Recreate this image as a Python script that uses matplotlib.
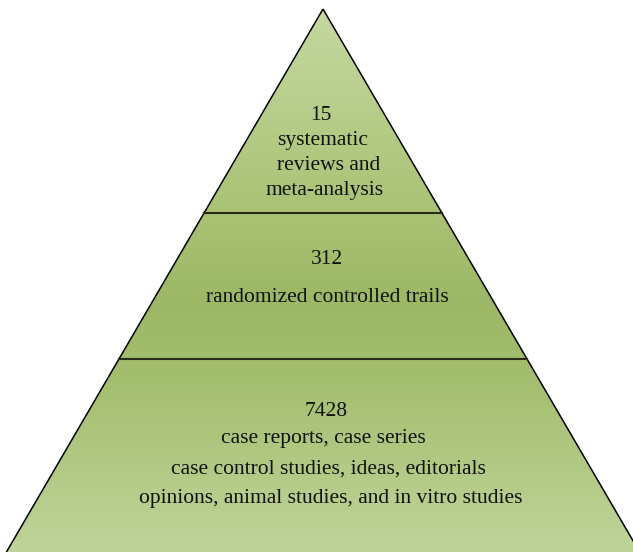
import matplotlib
matplotlib.use("Agg")
import matplotlib.pyplot as plt
import numpy as np
from matplotlib.patches import Polygon
from matplotlib.colors import LinearSegmentedColormap

counts = [15, 312, 7428]
descriptions = [
    ["systematic", "reviews and", "meta-analysis"],
    ["randomized controlled trails"],
    ["case reports, case series", "case control studies, ideas, editorials",
     "opinions, animal studies, and in vitro studies"],
]

W, H = 633, 552
fig = plt.figure(figsize=(W / 100, H / 100), dpi=100)
ax = fig.add_axes([0, 0, 1, 1])
ax.set_xlim(0, W)
ax.set_ylim(H, 0)
ax.axis("off")

apex = (323, 9)
slope = 0.583
ybase = 560
def xl(y):
    return apex[0] - slope * (y - apex[1])
def xr(y):
    return apex[0] + slope * (y - apex[1])

tri = Polygon([(apex[0], apex[1]), (xl(ybase), ybase), (xr(ybase), ybase)],
              closed=True, facecolor="none", edgecolor="black", lw=1.1, zorder=3)

stops = [(0.0, "#c6d9a3"), (213 / 560, "#a9c274"), (300 / 560, "#9cb866"),
         (360 / 560, "#a1bc6b"), (1.0, "#c0d59b")]
cmap = LinearSegmentedColormap.from_list("g", stops)
grad = np.linspace(0, 1, 560).reshape(-1, 1)
im = ax.imshow(grad, cmap=cmap, extent=[0, W, 560, 0], aspect="auto", zorder=1)
clip = Polygon([(apex[0], apex[1]), (xl(ybase), ybase), (xr(ybase), ybase)],
               closed=True, transform=ax.transData)
im.set_clip_path(clip)
ax.add_patch(tri)
ax.set_xlim(0, W)
ax.set_ylim(H, 0)

for yd in [213, 359]:
    ax.plot([xl(yd), xr(yd)], [yd, yd], color="#2a2a1a", lw=1.5, zorder=3)

font = dict(family="Liberation Serif", fontsize=15.5, color="#111111",
            ha="center", va="center", zorder=4)

# top tier
ax.text(321, 115, str(counts[0]), **font)
for t, x, y in zip(descriptions[0], [323, 329, 325], [140, 165, 190]):
    ax.text(x, y, t, **font)
# middle tier
ax.text(327, 259, str(counts[1]), **font)
ax.text(327, 297, descriptions[1][0], **font)
# bottom tier
ax.text(326, 412, str(counts[2]), **font)
for t, x, y in zip(descriptions[2], [323.5, 328.5, 330.5], [439, 469, 499]):
    ax.text(x, y, t, **font)

fig.savefig("out.png", dpi=100)
